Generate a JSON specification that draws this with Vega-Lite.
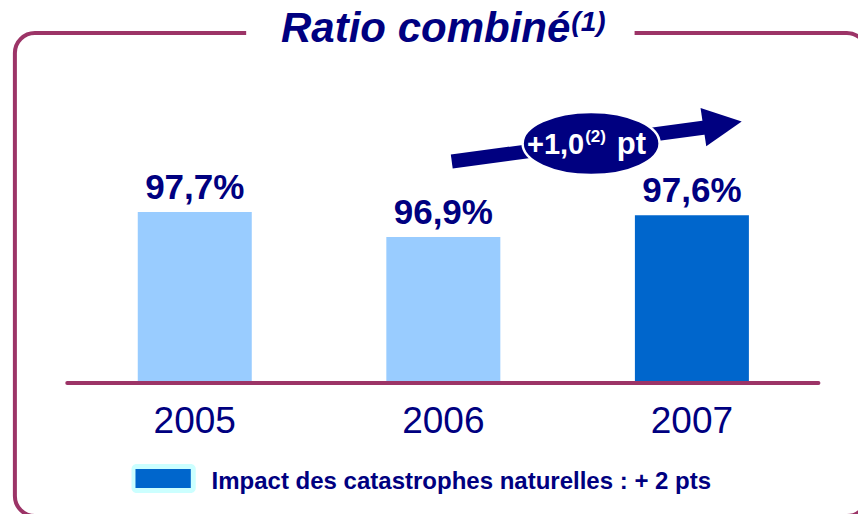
{
  "$schema": "https://vega.github.io/schema/vega-lite/v6.json",
  "width": 858,
  "height": 514,
  "autosize": {"type": "none"},
  "padding": 0,
  "background": "white",
  "config": {"view": {"stroke": null}, "text": {"font": "Liberation Sans"}},
  "datasets": {
    "bars": [
      {"year": 2005, "ratio": 97.7, "group": "base"},
      {"year": 2006, "ratio": 96.9, "group": "base"},
      {"year": 2007, "ratio": 97.6, "group": "catastrophes"}
    ],
    "one": [{"k": 1}]
  },
  "layer": [
    {
      "data": {"name": "one"},
      "mark": {"type": "rect", "fillOpacity": 0, "stroke": "#9C3467", "strokeWidth": 4, "cornerRadius": 20},
      "encoding": {
        "x": {"datum": 2004.2764, "type": "quantitative", "scale": {"domain": [2004.2366, 2007.6481], "nice": false, "zero": false}, "axis": null},
        "x2": {"datum": 2007.7038},
        "y": {"datum": 103.428, "type": "quantitative", "scale": {"domain": [88.036, 104.484], "nice": false, "zero": false}, "axis": null},
        "y2": {"datum": 87.972}
      }
    },
    {
      "data": {"name": "one"},
      "mark": {"type": "rule", "stroke": "white", "strokeWidth": 10},
      "encoding": {
        "x": {"datum": 2005.2068, "type": "quantitative"},
        "x2": {"datum": 2006.7694},
        "y": {"datum": 103.428, "type": "quantitative"}
      }
    },
    {
      "data": {"name": "one"},
      "mark": {"type": "text", "text": "Ratio combiné", "align": "right", "baseline": "alphabetic", "fontSize": 42, "fontWeight": "bold", "fontStyle": "italic", "color": "#000080"},
      "encoding": {
        "x": {"datum": 2006.5110, "type": "quantitative"},
        "y": {"datum": 103.140, "type": "quantitative"}
      }
    },
    {
      "data": {"name": "one"},
      "mark": {"type": "text", "text": "(1)", "align": "left", "baseline": "alphabetic", "fontSize": 28, "fontWeight": "bold", "fontStyle": "italic", "color": "#000080"},
      "encoding": {
        "x": {"datum": 2006.5150, "type": "quantitative"},
        "y": {"datum": 103.492, "type": "quantitative"}
      }
    },
    {
      "data": {"name": "bars"},
      "mark": {"type": "bar", "width": 114},
      "encoding": {
        "x": {"field": "year", "type": "quantitative"},
        "y": {"field": "ratio", "type": "quantitative"},
        "y2": {"datum": 92.228},
        "color": {"field": "group", "type": "nominal", "scale": {"domain": ["base", "catastrophes"], "range": ["#99CCFF", "#0066CC"]}, "legend": null}
      }
    },
    {
      "data": {"name": "one"},
      "mark": {"type": "rule", "stroke": "#9C3467", "strokeWidth": 4, "strokeCap": "round"},
      "encoding": {
        "x": {"datum": 2004.4871, "type": "quantitative"},
        "x2": {"datum": 2007.5090},
        "y": {"datum": 92.228, "type": "quantitative"}
      }
    },
    {
      "data": {"name": "bars"},
      "transform": [{"calculate": "replace(format(datum.ratio, '.1f'), '.', ',') + '%'", "as": "label"}],
      "mark": {"type": "text", "align": "center", "baseline": "alphabetic", "dy": -13, "fontSize": 35, "fontWeight": "bold", "color": "#000080"},
      "encoding": {
        "x": {"field": "year", "type": "quantitative"},
        "y": {"field": "ratio", "type": "quantitative"},
        "text": {"field": "label", "type": "nominal"}
      }
    },
    {
      "data": {"name": "bars"},
      "mark": {"type": "text", "align": "center", "baseline": "alphabetic", "fontSize": 37, "color": "#000080"},
      "encoding": {
        "x": {"field": "year", "type": "quantitative"},
        "y": {"datum": 90.628, "type": "quantitative"},
        "text": {"field": "year", "type": "ordinal"}
      }
    },
    {
      "data": {"name": "one"},
      "mark": {"type": "rule", "stroke": "#000080", "strokeWidth": 14, "strokeCap": "butt"},
      "encoding": {
        "x": {"datum": 2006.0339, "type": "quantitative"},
        "x2": {"datum": 2007.0676},
        "y": {"datum": 99.316, "type": "quantitative"},
        "y2": {"datum": 100.420}
      }
    },
    {
      "data": {"name": "one"},
      "mark": {"type": "point", "shape": "M-1,-1L1,0L-1,1Z", "filled": true, "fill": "#000080", "fillOpacity": 1, "strokeWidth": 0, "size": 1500, "angle": -8.5},
      "encoding": {
        "x": {"datum": 2007.1233, "type": "quantitative"},
        "y": {"datum": 100.508, "type": "quantitative"}
      }
    },
    {
      "data": {"name": "one"},
      "mark": {"type": "point", "shape": "M-1,0A1,0.46,0,1,0,1,0A1,0.46,0,1,0,-1,0Z", "filled": true, "fill": "#000080", "fillOpacity": 1, "stroke": "white", "strokeWidth": 2.5, "strokeOpacity": 1, "size": 18769},
      "encoding": {
        "x": {"datum": 2006.5945, "type": "quantitative"},
        "y": {"datum": 99.892, "type": "quantitative"}
      }
    },
    {
      "data": {"name": "one"},
      "mark": {"type": "text", "text": "+1,0", "align": "right", "baseline": "alphabetic", "fontSize": 29, "fontWeight": "bold", "color": "white"},
      "encoding": {
        "x": {"datum": 2006.5667, "type": "quantitative"},
        "y": {"datum": 99.556, "type": "quantitative"}
      }
    },
    {
      "data": {"name": "one"},
      "mark": {"type": "text", "text": "(2)", "align": "left", "baseline": "alphabetic", "fontSize": 17, "fontWeight": "bold", "color": "white"},
      "encoding": {
        "x": {"datum": 2006.5706, "type": "quantitative"},
        "y": {"datum": 99.940, "type": "quantitative"}
      }
    },
    {
      "data": {"name": "one"},
      "mark": {"type": "text", "text": "pt", "align": "left", "baseline": "alphabetic", "fontSize": 31, "fontWeight": "bold", "color": "white"},
      "encoding": {
        "x": {"datum": 2006.6979, "type": "quantitative"},
        "y": {"datum": 99.556, "type": "quantitative"}
      }
    },
    {
      "data": {"name": "one"},
      "mark": {"type": "rect", "fill": "#CCFFFF", "cornerRadius": 5},
      "encoding": {
        "x": {"datum": 2004.7456, "type": "quantitative"},
        "x2": {"datum": 2005.0040},
        "y": {"datum": 89.636, "type": "quantitative"},
        "y2": {"datum": 88.708}
      }
    },
    {
      "data": {"name": "one"},
      "mark": {"type": "rect", "fill": "#0066CC"},
      "encoding": {
        "x": {"datum": 2004.7615, "type": "quantitative"},
        "x2": {"datum": 2004.9841},
        "y": {"datum": 89.476, "type": "quantitative"},
        "y2": {"datum": 88.868}
      }
    },
    {
      "data": {"name": "one"},
      "mark": {"type": "text", "text": "Impact des catastrophes naturelles : + 2 pts", "align": "left", "baseline": "alphabetic", "fontSize": 24, "fontWeight": "bold", "color": "#000080"},
      "encoding": {
        "x": {"datum": 2005.0676, "type": "quantitative"},
        "y": {"datum": 88.836, "type": "quantitative"}
      }
    }
  ]
}
